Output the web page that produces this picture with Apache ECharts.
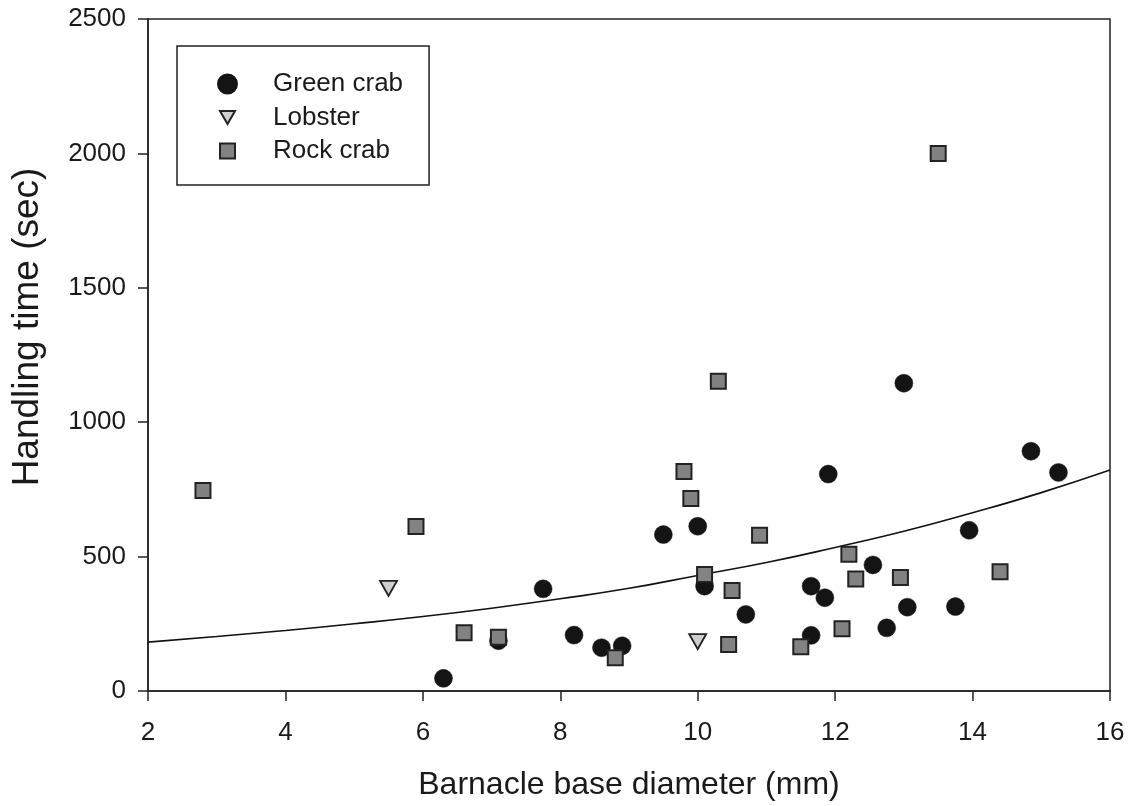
<!DOCTYPE html>
<html>
<head>
<meta charset="utf-8">
<script src="https://cdn.jsdelivr.net/npm/echarts@6/dist/echarts.min.js"></script>
<style>html,body{margin:0;padding:0;background:#fff}#c{width:1131px;height:806px}</style>
</head>
<body>
<div id="c"></div>
<script>
// Green crab: [diameter (mm), handling time (sec)]
var greenX = [6.3, 7.1, 7.75, 8.2, 8.6, 8.9, 9.5, 10.0, 10.1, 10.7, 11.65, 11.65, 11.85, 11.9, 12.55, 12.75, 13.0, 13.05, 13.75, 13.95, 14.85, 15.25];
var greenY = [47, 187, 380, 208, 161, 168, 582, 613, 390, 285, 390, 207, 347, 807, 469, 235, 1145, 312, 314, 598, 892, 813];
// Lobster
var lobsterX = [5.5, 10.0];
var lobsterY = [382, 184];
// Rock crab
var rockX = [2.8, 5.9, 6.6, 7.1, 8.8, 9.8, 9.9, 10.1, 10.3, 10.45, 10.5, 10.9, 11.5, 12.1, 12.2, 12.3, 12.95, 13.5, 14.4];
var rockY = [746, 612, 217, 200, 124, 817, 716, 433, 1152, 173, 374, 579, 165, 232, 509, 417, 422, 2000, 444];
// Fitted curve
var fitX = [2, 3, 4, 5, 6, 7, 8, 9, 10, 11, 12, 13, 14, 15, 16];
var fitY = [182, 203, 225, 250, 277, 308, 343, 382, 430, 478, 534, 594, 663, 738, 822];
var xTicks = [2, 4, 6, 8, 10, 12, 14, 16];
var yTicks = [0, 500, 1000, 1500, 2000, 2500];

function zip(a, b) { return a.map(function (v, i) { return [v, b[i]]; }); }

var FONT = 'Liberation Sans, Arial, sans-serif';
var INK = '#1a1a1a';
var triDown = 'path://M0,0L20,0L10,17.6Z';
var circLegend = 'circle';
var triLegend = 'path://M0,0M19,19M2,3L17,3L9.5,16Z';
var sqLegend = 'path://M0,0M19,19M2,2L17,2L17,17L2,17Z';

var chart = echarts.init(document.getElementById('c'), null, { renderer: 'canvas' });
chart.setOption({
  backgroundColor: '#ffffff',
  animation: false,
  textStyle: { fontFamily: FONT, color: INK },
  grid: { left: 148, right: 21, top: 19, bottom: 115, show: true, borderColor: '#222', borderWidth: 1.5, backgroundColor: 'transparent' },
  legend: {
    orient: 'vertical',
    left: 177, top: 46,
    padding: [25, 26, 21, 40],
    itemGap: 7.5,
    itemWidth: 19, itemHeight: 19,
    borderColor: '#222', borderWidth: 1.5,
    textStyle: { fontFamily: FONT, fontSize: 26, color: INK, padding: [0, 0, 0, 31] },
    data: [
      { name: 'Green crab', icon: circLegend },
      { name: 'Lobster', icon: triLegend },
      { name: 'Rock crab', icon: sqLegend }
    ]
  },
  xAxis: {
    type: 'value', min: xTicks[0], max: xTicks[xTicks.length - 1], interval: 2,
    name: 'Barnacle base diameter (mm)', nameLocation: 'middle', nameGap: 78,
    nameTextStyle: { fontFamily: FONT, fontSize: 32, color: INK },
    axisLine: { show: true, lineStyle: { color: '#222', width: 1.5 } },
    axisTick: { show: true, inside: false, length: 10, lineStyle: { color: '#222', width: 1.5 } },
    axisLabel: { fontFamily: FONT, fontSize: 26, color: INK, margin: 29, formatter: function (v) { return String(v); } },
    splitLine: { show: false }
  },
  yAxis: {
    type: 'value', min: yTicks[0], max: yTicks[yTicks.length - 1], interval: 500,
    name: 'Handling time (sec)', nameLocation: 'middle', nameGap: 102,
    nameTextStyle: { fontFamily: FONT, fontSize: 37, color: INK, padding: [0, 0, 0, 56] },
    axisLine: { show: true, lineStyle: { color: '#222', width: 1.5 } },
    axisTick: { show: true, inside: false, length: 10, lineStyle: { color: '#222', width: 1.5 } },
    axisLabel: { fontFamily: FONT, fontSize: 26, color: INK, margin: 22, formatter: function (v) { return String(v); } },
    splitLine: { show: false }
  },
  series: [
    {
      name: 'Fit', type: 'line', data: zip(fitX, fitY), smooth: true, showSymbol: false,
      lineStyle: { color: '#111', width: 1.6 }, z: 1, silent: true
    },
    {
      name: 'Green crab', type: 'scatter', data: zip(greenX, greenY), symbol: 'circle', symbolSize: 18,
      itemStyle: { color: '#141414', borderColor: '#141414', borderWidth: 0.5, opacity: 1 }, z: 3
    },
    {
      name: 'Lobster', type: 'scatter', data: zip(lobsterX, lobsterY), symbol: triDown, symbolSize: [17, 15],
      itemStyle: { color: '#cfcfcf', borderColor: '#222', borderWidth: 1.8, opacity: 1 }, z: 4
    },
    {
      name: 'Rock crab', type: 'scatter', data: zip(rockX, rockY), symbol: 'rect', symbolSize: 15,
      itemStyle: { color: '#828282', borderColor: '#222', borderWidth: 2, opacity: 1 }, z: 5
    }
  ]
});
</script>
</body>
</html>
